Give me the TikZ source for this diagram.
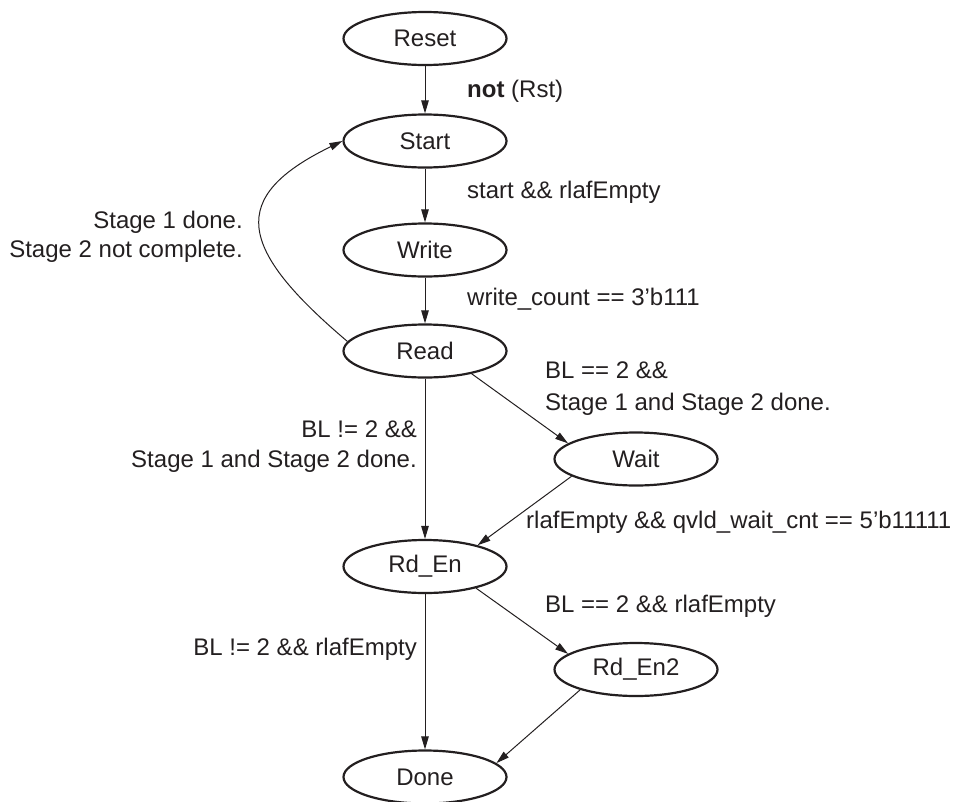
\documentclass[tikz,border=0pt]{standalone}
\usepackage{fontspec}
\setmainfont{Liberation Sans}
\usetikzlibrary{shapes.geometric,arrows.meta}
\definecolor{ink}{HTML}{231F20}
\begin{document}
\begin{tikzpicture}[x=1pt,y=-1pt,
  state/.style={ellipse,draw=ink,text=ink,line width=2.2pt,minimum width=163pt,minimum height=53pt,inner sep=0pt,font=\fontsize{24}{29}\selectfont},
  conn/.style={draw=ink,line width=1pt,-{Triangle[length=13pt,width=7.5pt]}},
  lbl/.style={inner sep=0pt,text=ink,font=\fontsize{24}{29}\selectfont}]
\useasboundingbox (0,0) rectangle (967,801);
% states
\node[state] (reset) at (425,38.5) {Reset};
\node[state] (start) at (425,141) {Start};
\node[state] (write) at (425,250) {Write};
\node[state] (read)  at (425,351) {Read};
\node[state] (wait)  at (636,459) {Wait};
\node[state] (rden)  at (425,566.5) {Rd\_En};
\node[state] (rden2) at (636,669.5) {Rd\_En2};
\node[state] (done)  at (425,777) {Done};
% connectors
\draw[conn] (reset) -- (start);
\draw[conn] (start) -- (write);
\draw[conn] (write) -- (read);
\draw[conn] (read) -- (rden);
\draw[conn] (rden) -- (done);
\draw[conn] (read.-26) -- (wait.167);
\draw[conn] (wait.195) -- (rden.22);
\draw[conn] (rden.-23) -- (rden2.167);
\draw[conn] (rden2.200) -- (done.11);
\draw[conn] (read.173) .. controls (237.3,248.2) and (227.2,197) .. (start.west);
% labels
\node[lbl,anchor=base west] (l1) at (467,97) {\textbf{not} (Rst)};
\node[lbl,anchor=base west] (l2) at (467,198.5) {start \&\& rlafEmpty};
\node[lbl,anchor=base west] (l3) at (467,305.5) {write\_count == 3’b111};
\node[lbl,anchor=base east] (l4a) at (243,228) {Stage 1 done.};
\node[lbl,anchor=base east] (l4b) at (243,257) {Stage 2 not complete.};
\node[lbl,anchor=base west] (l5a) at (545,378) {BL == 2 \&\&};
\node[lbl,anchor=base west] (l5b) at (545,410) {Stage 1 and Stage 2 done.};
\node[lbl,anchor=base east] (l6a) at (417,437) {BL != 2 \&\&};
\node[lbl,anchor=base east] (l6b) at (417,467) {Stage 1 and Stage 2 done.};
\node[lbl,anchor=base west] (l7) at (526,528) {rlafEmpty \&\& qvld\_wait\_cnt == 5’b11111};
\node[lbl,anchor=base west] (l8) at (545,612) {BL == 2 \&\& rlafEmpty};
\node[lbl,anchor=base east] (l9) at (417,655) {BL != 2 \&\& rlafEmpty};
\end{tikzpicture}
\end{document}
